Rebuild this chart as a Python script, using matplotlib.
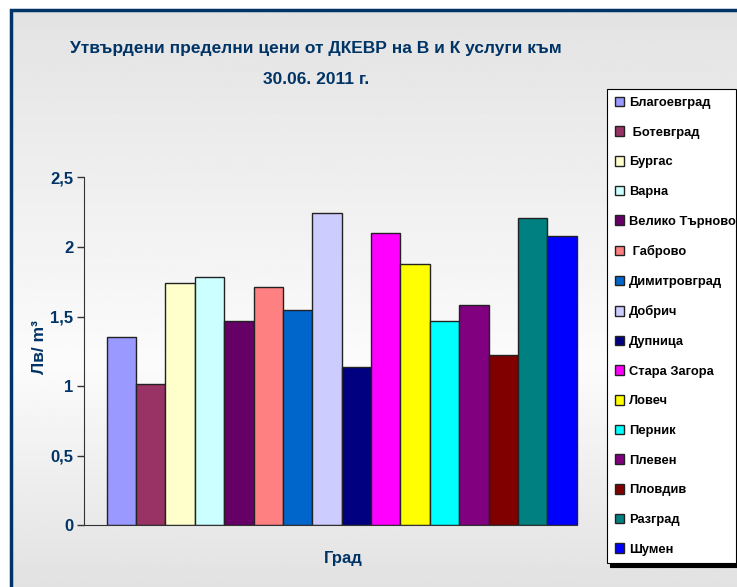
import numpy as np
import matplotlib
matplotlib.use("Agg")
import matplotlib.pyplot as plt
from matplotlib import font_manager
from matplotlib.patches import Rectangle

# --- Datos ---
cities = ["Благоевград", " Ботевград", "Бургас", "Варна", "Велико Търново",
          " Габрово", "Димитровград", "Добрич", "Дупница", "Стара Загора",
          "Ловеч", "Перник", "Плевен", "Пловдив", "Разград", "Шумен"]
prices = [1.35, 1.015, 1.74, 1.785, 1.465, 1.715, 1.545, 2.24,
          1.14, 2.10, 1.875, 1.465, 1.585, 1.22, 2.205, 2.08]
colors = ["#9999FF", "#993366", "#FFFFCC", "#CCFFFF", "#660066", "#FF8080",
          "#0066CC", "#CCCCFF", "#000080", "#FF00FF", "#FFFF00", "#00FFFF",
          "#800080", "#800000", "#008080", "#0000FF"]
yticks = [0, 0.5, 1, 1.5, 2, 2.5]
ytick_labels = ["0", "0,5", "1", "1,5", "2", "2,5"]

title_lines = ["Утвърдени пределни цени от ДКЕВР на В и К услуги към",
               "30.06. 2011 г."]
NAVY = "#003366"

# --- Fuente estrecha si existe ---
available = {f.name for f in font_manager.fontManager.ttflist}
narrow = "Liberation Sans Narrow" if "Liberation Sans Narrow" in available else "Liberation Sans"
plt.rcParams["font.family"] = [narrow, "DejaVu Sans"]
plt.rcParams["font.weight"] = "bold"

W, H = 737, 587
fig = plt.figure(figsize=(W / 100, H / 100), dpi=100)
fig.patch.set_facecolor("white")

# Fondo con degradado
bg = fig.add_axes([0, 0, 1, 1], zorder=-10)
ys = np.linspace(0, 1, 300)
light = np.interp(ys, [0, 0.4, 1], [0.88, 0.985, 0.89])
grad = np.repeat(light[:, None], 2, axis=1)
bg.imshow(grad, cmap="gray", vmin=0, vmax=1, aspect="auto",
          extent=[11 / W, 1.02, -0.02, 1 - 10 / H], origin="lower",
          transform=fig.transFigure)
bg.set_xlim(0, 1)
bg.set_ylim(0, 1)
bg.axis("off")
fig.patches.append(Rectangle((11 / W, -0.05), 1.1, 1 - 10 / H + 0.05,
                             transform=fig.transFigure, fill=False,
                             edgecolor=NAVY, linewidth=2.5, zorder=-5))

# Ejes principales
left, right, bottom, top = 84.3, 599.1, 525.3, 177.3
ax = fig.add_axes([left / W, 1 - bottom / H, (right - left) / W, (bottom - top) / H])
ax.patch.set_alpha(0)

x = np.arange(len(cities))
bars = ax.bar(x, prices, width=1.0, align="edge", color=colors,
              edgecolor="#222222", linewidth=1.0)
for b, lab in zip(bars, cities):
    b.set_label(lab)

ax.set_xlim(-0.76, len(cities) + 0.76)
ax.set_ylim(0, 2.5)
ax.set_yticks(yticks)
ax.set_yticklabels(ytick_labels)
ax.set_xticks([])
for s in ["top", "right"]:
    ax.spines[s].set_visible(False)
ax.spines["bottom"].set_bounds(-0.76, len(cities))
ax.spines["left"].set_color("#333333")
ax.spines["bottom"].set_color("#333333")
ax.tick_params(axis="y", direction="out", length=5, width=1, color="#333333",
               labelsize=12, labelcolor=NAVY, pad=3)
for t in ax.get_yticklabels():
    t.set_fontweight("bold")

# Titulo (dos lineas)
fig.text(316 / W, 1 - 48 / H, title_lines[0], ha="center", va="center",
         fontsize=12.5, color=NAVY, fontweight="bold")
fig.text(316 / W, 1 - 80 / H, title_lines[1], ha="center", va="center",
         fontsize=12.5, color=NAVY, fontweight="bold")
fig.text(343 / W, 1 - 558 / H, "Град", ha="center", va="center", fontsize=12,
         color=NAVY, fontweight="bold")
fig.text(40 / W, 1 - 347 / H, "Лв/ m³", ha="center", va="center", fontsize=12.5,
         color=NAVY, fontweight="bold", rotation=90)

leg = ax.legend(handles=list(bars), loc="upper left", mode="expand",
                bbox_to_anchor=(607 / W, 1 - 561 / H, 129 / W, 472 / H),
                bbox_transform=fig.transFigure,
                borderaxespad=0, fontsize=9.3, frameon=True, fancybox=False,
                handlelength=0.75, handleheight=0.75, handletextpad=0.35,
                labelspacing=1.35, borderpad=0.6,
                shadow={"color": "black", "alpha": 1, "ox": 2.5, "oy": -2.5})
leg.get_frame().set_edgecolor("black")
leg.get_frame().set_linewidth(0.8)
leg.get_frame().set_facecolor("white")
for t in leg.get_texts():
    t.set_fontweight("bold")
    t.set_color("black")

fig.savefig("out.png", dpi=100)
